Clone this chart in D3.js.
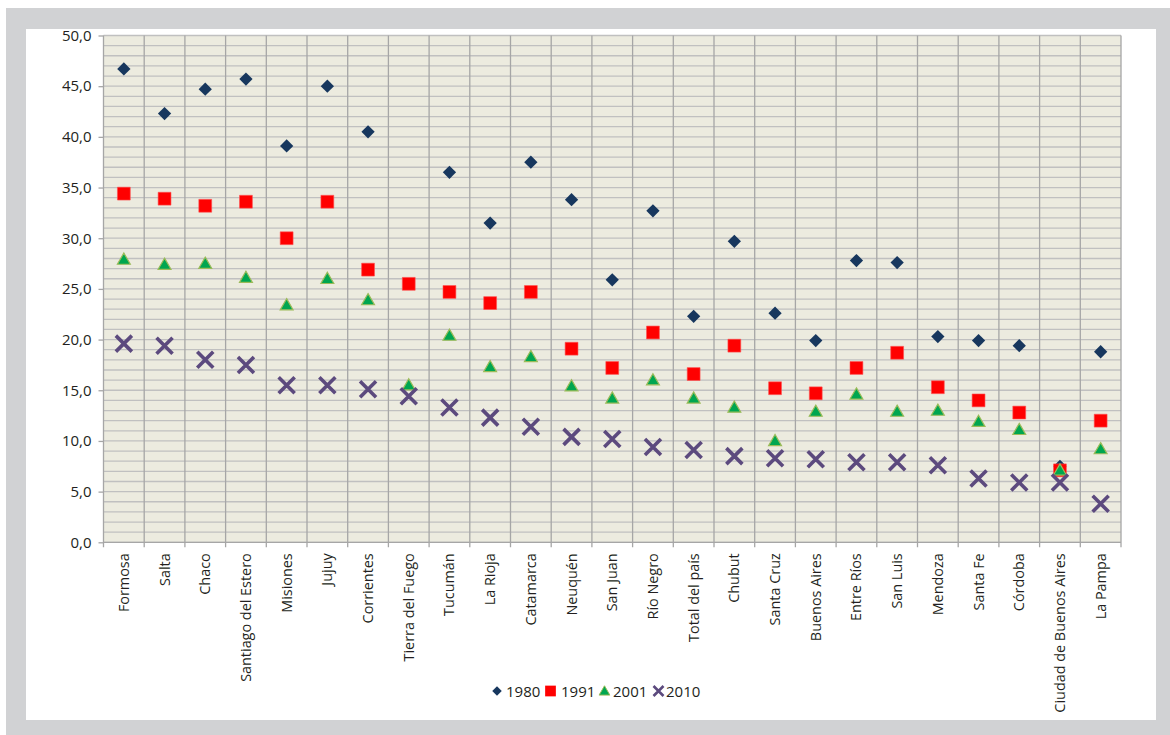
<!DOCTYPE html>
<html><head><meta charset="utf-8">
<script src="https://cdn.jsdelivr.net/npm/d3@7"></script>
<style>
html,body{margin:0;padding:0;background:#fff;}
svg{display:block;}
text{font-family:"Open Sans",sans-serif;fill:#231f20;}
</style></head>
<body>
<svg id="c" width="1170" height="735"></svg>
<script>
const categories = ["Formosa","Salta","Chaco","Santiago del Estero","Misiones","Jujuy","Corrientes","Tierra del Fuego","Tucumán","La Rioja","Catamarca","Neuquén","San Juan","Río Negro","Total del país","Chubut","Santa Cruz","Buenos Aires","Entre Ríos","San Luis","Mendoza","Santa Fe","Córdoba","Ciudad de Buenos Aires","La Pampa"];
const v1980 = [46.7,42.3,44.7,45.7,39.1,45.0,40.5,null,36.5,31.5,37.5,33.8,25.9,32.7,22.3,29.7,22.6,19.9,27.8,27.6,20.3,19.9,19.4,7.5,18.8];
const v1991 = [34.4,33.9,33.2,33.6,30.0,33.6,26.9,25.5,24.7,23.6,24.7,19.1,17.2,20.7,16.6,19.4,15.2,14.7,17.2,18.7,15.3,14.0,12.8,7.1,12.0];
const v2001 = [27.9,27.4,27.5,26.1,23.4,26.0,23.9,15.5,20.4,17.3,18.3,15.4,14.2,16.0,14.2,13.3,10.0,12.9,14.6,12.9,13.0,11.9,11.1,7.1,9.2];
const v2010 = [19.6,19.4,18.0,17.5,15.5,15.5,15.1,14.4,13.3,12.3,11.4,10.4,10.2,9.4,9.1,8.5,8.3,8.2,7.9,7.9,7.6,6.3,5.9,5.9,3.8];
const seriesNames = ["1980","1991","2001","2010"];
const yTicks = [0,5,10,15,20,25,30,35,40,45,50];

const svg = d3.select("#c");
// frame
svg.append("rect").attr("x",6).attr("y",8).attr("width",1164).attr("height",727).attr("fill","#d1d2d4");
svg.append("rect").attr("x",26).attr("y",29).attr("width",1130).attr("height",691).attr("fill","#ffffff");

const L=103.5, R=1121, T=35.5, B=542.3;
const x = d3.scaleBand().domain(categories).range([L,R]).padding(0);
const y = d3.scaleLinear().domain([0,50]).range([B,T]);
const cx = c => x(c)+x.bandwidth()/2;

svg.append("rect").attr("x",L).attr("y",T).attr("width",R-L).attr("height",B-T).attr("fill","#ecebdf");
// horizontal grid every 1
svg.append("g").selectAll("line").data(d3.range(0,51,1)).join("line")
  .attr("x1",L).attr("x2",R).attr("y1",d=>y(d)).attr("y2",d=>y(d))
  .attr("stroke","#c0c0c0").attr("stroke-width",1.3);
// vertical separators
svg.append("g").selectAll("line").data(categories.slice(1)).join("line")
  .attr("x1",d=>x(d)).attr("x2",d=>x(d)).attr("y1",T).attr("y2",B+5)
  .attr("stroke","#a6a6a6").attr("stroke-width",1.3);
// borders
svg.append("line").attr("x1",R).attr("x2",R).attr("y1",T).attr("y2",B+5).attr("stroke","#a6a6a6").attr("stroke-width",1.3);
svg.append("line").attr("x1",L).attr("x2",L).attr("y1",T).attr("y2",B+5).attr("stroke","#a6a6a6").attr("stroke-width",1.3);
svg.append("line").attr("x1",L).attr("x2",R).attr("y1",B).attr("y2",B).attr("stroke","#a6a6a6").attr("stroke-width",1.3);

// y axis
const yAxis = d3.axisLeft(y).tickValues(yTicks).tickSize(5).tickPadding(7)
  .tickFormat(d=>d3.format(".1f")(d).replace(".",","));
const ya = svg.append("g").attr("transform",`translate(${L},0)`).call(yAxis);
ya.select(".domain").remove();
ya.selectAll(".tick line").attr("stroke","#a6a6a6").attr("stroke-width",1.3);
ya.selectAll(".tick text").attr("font-size",15).attr("font-family","Open Sans").attr("fill","#231f20");

// x labels
const xAxis = d3.axisBottom(x).tickSize(0).tickPadding(0);
const xa = svg.append("g").attr("transform",`translate(0,${B})`).call(xAxis);
xa.select(".domain").remove();
xa.selectAll(".tick text").attr("font-size",14.4).attr("font-family","Open Sans").attr("fill","#231f20")
  .attr("transform","rotate(-90)").attr("text-anchor","end").attr("x",-11).attr("y",0).attr("dy","0.35em");

const diamond = d3.symbol().type(d3.symbolSquare).size(88);
const square = d3.symbol().type(d3.symbolSquare).size(165);
const tri = d3.symbol().type(d3.symbolTriangle).size(72);
function xPath(s){return `M${-s},${-s}L${s},${s}M${-s},${s}L${s},${-s}`;}

const pts = (arr)=>categories.map((c,i)=>({c,v:arr[i]})).filter(d=>d.v!=null);

svg.append("g").selectAll("path").data(pts(v1980)).join("path")
  .attr("d",diamond()).attr("fill","#17375e")
  .attr("transform",d=>`translate(${cx(d.c)},${y(d.v)}) rotate(45)`);
svg.append("g").selectAll("path").data(pts(v1991)).join("path")
  .attr("d",square()).attr("fill","#ff0000").attr("stroke","#ff5050").attr("stroke-width",0.6)
  .attr("transform",d=>`translate(${cx(d.c)},${y(d.v)})`);
svg.append("g").selectAll("path").data(pts(v2001)).join("path")
  .attr("d",tri()).attr("fill","#00a650").attr("stroke","#9bbb59").attr("stroke-width",1.2)
  .attr("transform",d=>`translate(${cx(d.c)},${y(d.v)+1})`);
svg.append("g").selectAll("path").data(pts(v2010)).join("path")
  .attr("d",xPath(8)).attr("fill","none").attr("stroke","#5c4a7e").attr("stroke-width",3.6)
  .attr("transform",d=>`translate(${cx(d.c)},${y(d.v)})`);

// legend
const lg = svg.append("g").attr("transform","translate(0,692)");
const items = [
  {n:seriesNames[0], mx:497, tx:506},
  {n:seriesNames[1], mx:550.5, tx:561},
  {n:seriesNames[2], mx:604.5, tx:613},
  {n:seriesNames[3], mx:658.5, tx:666}
];
lg.append("path").attr("d",d3.symbol().type(d3.symbolSquare).size(45)()).attr("fill","#17375e").attr("transform",`translate(${items[0].mx},-1) rotate(45)`);
lg.append("path").attr("d",d3.symbol().type(d3.symbolSquare).size(115)()).attr("fill","#ff0000").attr("transform",`translate(${items[1].mx},-1)`);
lg.append("path").attr("d",d3.symbol().type(d3.symbolTriangle).size(50)()).attr("fill","#00a650").attr("stroke","#9bbb59").attr("stroke-width",1).attr("transform",`translate(${items[2].mx},0)`);
lg.append("path").attr("d",xPath(5)).attr("fill","none").attr("stroke","#5c4a7e").attr("stroke-width",2.6).attr("transform",`translate(${items[3].mx},-1)`);
lg.selectAll("text.l").data(items).join("text").attr("class","l")
  .attr("x",d=>d.tx).attr("y",0).attr("dy","0.35em").attr("font-size",15).text(d=>d.n);
</script>
</body></html>
